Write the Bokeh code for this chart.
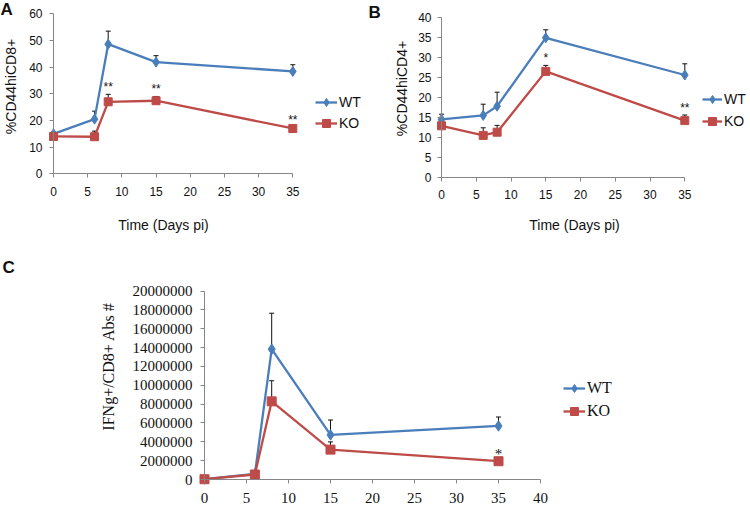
from bokeh.plotting import figure
from bokeh.layouts import column, row
from bokeh.models import (Range1d, FixedTicker, BasicTickFormatter, Whisker, ColumnDataSource,
                          Legend, LegendItem, Label, TeeHead)
from bokeh.core.properties import value
from bokeh.embed import file_html
from bokeh.resources import INLINE
import numpy as np

# ---------------- data ----------------
days = [0, 6, 8, 15, 35]

cd8_wt = [15.0, 20.5, 48.6, 41.9, 38.4]
cd8_wt_err = [0.6, 3.0, 4.9, 2.4, 2.5]
cd8_ko = [14.0, 13.9, 27.0, 27.4, 17.0]
cd8_ko_err = [0.4, 2.1, 2.8, 1.6, 0.5]
cd8_sig = ["", "", "**", "**", "**"]

cd4_wt = [14.4, 15.4, 17.7, 34.8, 25.5]
cd4_wt_err = [1.3, 2.8, 3.5, 2.0, 2.8]
cd4_ko = [12.8, 10.4, 11.2, 26.4, 14.1]
cd4_ko_err = [0.5, 1.9, 1.7, 1.5, 1.4]
cd4_sig = ["", "", "", "*", "**"]

ifng_wt = [50000, 600000, 13830000, 4730000, 5680000]
ifng_wt_err = [0, 0, 3810000, 1580000, 950000]
ifng_ko = [30000, 530000, 8290000, 3170000, 1940000]
ifng_ko_err = [0, 0, 2190000, 820000, 0]
ifng_sig = ["", "", "", "", "*"]

xticks_ab = [0, 5, 10, 15, 20, 25, 30, 35]
yticks_a = [0, 10, 20, 30, 40, 50, 60]
yticks_b = [0, 5, 10, 15, 20, 25, 30, 35, 40]
xticks_c = [0, 5, 10, 15, 20, 25, 30, 35, 40]
yticks_c = [0, 2000000, 4000000, 6000000, 8000000, 10000000, 12000000,
            14000000, 16000000, 18000000, 20000000]

BLUE = "#4a7ebb"
RED = "#be4b48"
AXIS = "#868686"
INK = "#111111"


def span(v0, v1, p0, p1, total):
    """Range so that value v0 lands on pixel p0 and v1 on pixel p1 of a canvas of length total."""
    k = (v1 - v0) / (p1 - p0)
    return Range1d(v0 - p0 * k, v0 + (total - p0) * k)


def make_panel(W, H, xr, xpix, yr, ypix, xticks, yticks,
               wt, wt_err, ko, ko_err, sig, font, tick_fs, legend_fs, legend_loc,
               legend_glyph_w, legend_spacing, star_fs, xtick_standoff, ytick_standoff,
               diamond, square):
    p = figure(width=W, height=H, output_backend="svg", toolbar_location=None,
               x_range=span(xr[0], xr[1], xpix[0], xpix[1], W),
               y_range=span(yr[0], yr[1], H - ypix[0], H - ypix[1], H),
               min_border=0)
    p.outline_line_color = None
    p.xgrid.grid_line_color = None
    p.ygrid.grid_line_color = None

    for ax, ticks, bounds in ((p.xaxis[0], xticks, xr), (p.yaxis[0], yticks, yr)):
        ax.fixed_location = 0
        ax.bounds = bounds
        ax.ticker = FixedTicker(ticks=ticks)
        ax.axis_line_color = AXIS
        ax.major_tick_line_color = AXIS
        ax.minor_tick_line_color = None
        ax.major_tick_out = 4
        ax.major_tick_in = 0
        ax.major_label_text_font = font
        ax.major_label_text_font_size = tick_fs
        ax.major_label_text_color = INK
    p.yaxis[0].formatter = BasicTickFormatter(use_scientific=False)
    p.xaxis.major_label_standoff = xtick_standoff
    p.yaxis.major_label_standoff = ytick_standoff

    wt_a = np.array(wt, dtype=float)
    ko_a = np.array(ko, dtype=float)
    src_wt = ColumnDataSource(dict(x=days, y=wt_a, up=wt_a + np.array(wt_err, dtype=float)))
    src_ko = ColumnDataSource(dict(x=days, y=ko_a, up=ko_a + np.array(ko_err, dtype=float), sig=sig))

    for src in (src_wt, src_ko):
        p.add_layout(Whisker(base="x", lower="y", upper="up", source=src, line_color=INK, line_width=1,
                             lower_head=None,
                             upper_head=TeeHead(size=5, line_color=INK, line_width=1)))

    l_wt = p.line("x", "y", source=src_wt, line_color=BLUE, line_width=2.3)
    m_wt = p.scatter("x", "y", source=src_wt, marker="diamond", size=diamond,
                     fill_color=BLUE, line_color=BLUE)
    l_ko = p.line("x", "y", source=src_ko, line_color=RED, line_width=2.3)
    m_ko = p.scatter("x", "y", source=src_ko, marker="square", size=square,
                     fill_color=RED, line_color=RED)

    p.text("x", "up", text="sig", source=src_ko, text_font=value(font), text_font_size=value(star_fs),
           text_align="center", text_baseline="alphabetic", y_offset=-7, text_color=INK)

    legend = Legend(items=[LegendItem(label="WT", renderers=[l_wt, m_wt]),
                           LegendItem(label="KO", renderers=[l_ko, m_ko])],
                    location=legend_loc, padding=0, margin=0, spacing=legend_spacing,
                    glyph_width=legend_glyph_w, glyph_height=20, label_height=20,
                    label_standoff=2, label_text_font=font, label_text_font_size=legend_fs,
                    label_text_color=INK,
                    border_line_alpha=0, background_fill_alpha=0)
    p.add_layout(legend)
    return p


def text(p, txt, x, y, font, size, angle=0.0, bold=False, align="center", baseline="middle"):
    p.add_layout(Label(x=x, y=y, x_units="screen", y_units="screen", text=txt, angle=angle,
                       text_font=font, text_font_size=size,
                       text_font_style="bold" if bold else "normal",
                       text_align=align, text_baseline=baseline, text_color=INK))


SANS = "Liberation Sans"
SERIF = "Liberation Serif"

# Panel A  (canvas 365 x 248)
pa = make_panel(365, 248, (0, 35), (53, 292.3), (0, 60), (173.3, 13.3), xticks_ab, yticks_a,
                cd8_wt, cd8_wt_err, cd8_ko, cd8_ko_err, cd8_sig, SANS, "12px", "14px",
                (315, 115), 22, 1, "12px", 9, 7, 10, 8)
text(pa, "Time (Days pi)", 163, 248 - 224, SANS, "14px")
text(pa, "%CD44hiCD8+", 10, 248 - 86, SANS, "14px", angle=np.pi / 2)
text(pa, "A", 0, 249, SANS, "17px", bold=True, align="left", baseline="top")

# Panel B  (canvas 385 x 248, starts at x=365)
pb = make_panel(385, 248, (0, 35), (441 - 365, 684.3 - 365), (0, 40), (176.5, 16.5), xticks_ab, yticks_b,
                cd4_wt, cd4_wt_err, cd4_ko, cd4_ko_err, cd4_sig, SANS, "12px", "14px",
                (702 - 365, 117), 20, 2, "12px", 9, 6, 10, 8)
text(pb, "Time (Days pi)", 574 - 365, 248 - 224, SANS, "14px")
text(pb, "%CD44hiCD4+", 401 - 365, 248 - 88, SANS, "14px", angle=np.pi / 2)
text(pb, "B", 3, 246, SANS, "17px", bold=True, align="left", baseline="top")

# Panel C  (canvas 750 x 260, starts at y=248)
pc = make_panel(750, 260, (0, 40), (204, 540), (0, 20000000), (479 - 248, 290.5 - 248), xticks_c, yticks_c,
                ifng_wt, ifng_wt_err, ifng_ko, ifng_ko_err, ifng_sig, SERIF, "15px", "16px",
                (563, 87), 22, 3, "15px", 9, 8, 10.5, 9)
text(pc, "IFNg+/CD8+ Abs #", 108, 260 - (366 - 248), SERIF, "16px", angle=np.pi / 2)
text(pc, "C", 2, 260 - (257 - 248), SANS, "17px", bold=True, align="left", baseline="top")

layout = column(row(pa, pb), pc)
open("out.html", "w").write(file_html(layout, INLINE))
